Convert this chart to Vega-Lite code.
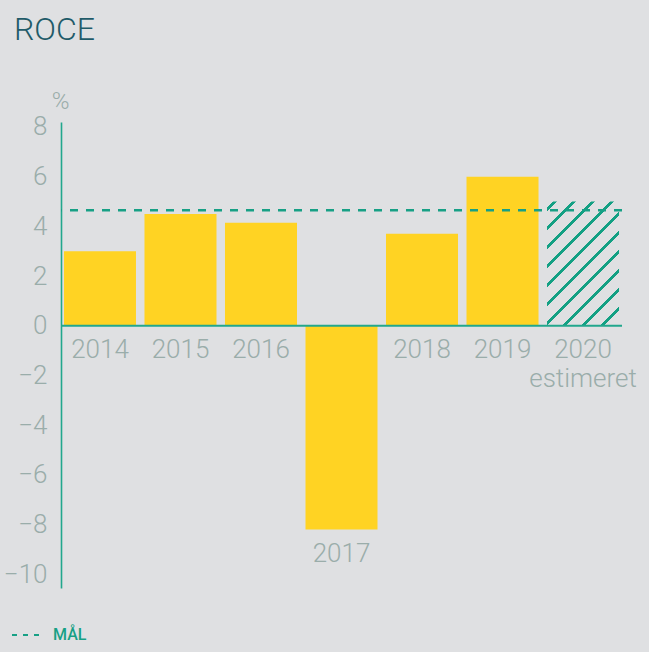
{
  "$schema": "https://vega.github.io/schema/vega-lite/v6.json",
  "autosize": "none",
  "width": 561,
  "height": 466,
  "padding": {"left": 61, "top": 122, "right": 27, "bottom": 64},
  "background": "#dfe0e2",
  "title": {
    "text": "ROCE",
    "anchor": "start",
    "frame": "group",
    "dx": -47,
    "font": "Roboto",
    "fontSize": 32,
    "fontWeight": 300,
    "color": "#1f5b69",
    "offset": 42
  },
  "config": {"view": {"stroke": null}, "font": "Roboto"},
  "data": {
    "values": [
      {"year": "2014", "roce": 3.0, "type": "actual", "sub": ""},
      {"year": "2015", "roce": 4.5, "type": "actual", "sub": ""},
      {"year": "2016", "roce": 4.15, "type": "actual", "sub": ""},
      {"year": "2017", "roce": -8.2, "type": "actual", "sub": ""},
      {"year": "2018", "roce": 3.7, "type": "actual", "sub": ""},
      {"year": "2019", "roce": 6.0, "type": "actual", "sub": ""},
      {"year": "2020", "roce": 5.0, "type": "estimate", "sub": "estimeret"}
    ]
  },
  "layer": [
    {
      "transform": [{"filter": "datum.type === 'actual'"}],
      "mark": {"type": "bar", "color": "#ffd323"},
      "encoding": {
        "x": {"field": "year", "type": "ordinal", "axis": null, "scale": {"domain": ["2014","2015","2016","2017","2018","2019","2020"], "paddingInner": 0.1056, "paddingOuter": 0.037}},
        "y": {
          "field": "roce",
          "type": "quantitative",
          "scale": {"domain": [-10.55, 8.2], "nice": false, "zero": false},
          "axis": {
            "values": [-10, -8, -6, -4, -2, 0, 2, 4, 6, 8],
            "title": "%",
            "titleAngle": 0,
            "titleX": -1,
            "titleY": -21,
            "titleAlign": "center",
            "titleBaseline": "middle",
            "titleFont": "Roboto",
            "titleFontWeight": 300,
            "titleFontSize": 24,
            "titleColor": "#9aadaa",
            "titlePadding": 0,
            "labelFont": "Roboto",
            "labelFontWeight": 300,
            "labelFontSize": 26,
            "labelColor": "#9aadaa",
            "labelPadding": 14,
            "ticks": false,
            "grid": false,
            "domainColor": "#22a78d",
            "domainWidth": 1.6
          }
        }
      }
    },
    {
      "transform": [{"filter": "datum.type === 'estimate'"}],
      "mark": {
        "type": "bar",
        "fill": {
          "gradient": "linear",
          "x1": 0, "y1": 0, "x2": 0.6864, "y2": 1.1821,
          "stops": [
            {"offset": 0, "color": "#dfe0e2"},
            {"offset": 0.0306, "color": "#dfe0e2"}, {"offset": 0.0306, "color": "#13a083"}, {"offset": 0.051, "color": "#13a083"}, {"offset": 0.051, "color": "#dfe0e2"},
            {"offset": 0.1276, "color": "#dfe0e2"}, {"offset": 0.1276, "color": "#13a083"}, {"offset": 0.148, "color": "#13a083"}, {"offset": 0.148, "color": "#dfe0e2"},
            {"offset": 0.2245, "color": "#dfe0e2"}, {"offset": 0.2245, "color": "#13a083"}, {"offset": 0.2449, "color": "#13a083"}, {"offset": 0.2449, "color": "#dfe0e2"},
            {"offset": 0.3214, "color": "#dfe0e2"}, {"offset": 0.3214, "color": "#13a083"}, {"offset": 0.3418, "color": "#13a083"}, {"offset": 0.3418, "color": "#dfe0e2"},
            {"offset": 0.4184, "color": "#dfe0e2"}, {"offset": 0.4184, "color": "#13a083"}, {"offset": 0.4388, "color": "#13a083"}, {"offset": 0.4388, "color": "#dfe0e2"},
            {"offset": 0.5153, "color": "#dfe0e2"}, {"offset": 0.5153, "color": "#13a083"}, {"offset": 0.5357, "color": "#13a083"}, {"offset": 0.5357, "color": "#dfe0e2"},
            {"offset": 0.6122, "color": "#dfe0e2"}, {"offset": 0.6122, "color": "#13a083"}, {"offset": 0.6327, "color": "#13a083"}, {"offset": 0.6327, "color": "#dfe0e2"},
            {"offset": 0.7092, "color": "#dfe0e2"}, {"offset": 0.7092, "color": "#13a083"}, {"offset": 0.7296, "color": "#13a083"}, {"offset": 0.7296, "color": "#dfe0e2"},
            {"offset": 0.8061, "color": "#dfe0e2"}, {"offset": 0.8061, "color": "#13a083"}, {"offset": 0.8265, "color": "#13a083"}, {"offset": 0.8265, "color": "#dfe0e2"},
            {"offset": 0.9031, "color": "#dfe0e2"}, {"offset": 0.9031, "color": "#13a083"}, {"offset": 0.9235, "color": "#13a083"}, {"offset": 0.9235, "color": "#dfe0e2"},
            {"offset": 1, "color": "#dfe0e2"}
          ]
        }
      },
      "encoding": {
        "x": {"field": "year", "type": "ordinal", "axis": null},
        "y": {"field": "roce", "type": "quantitative", "scale": {"domain": [-10.55, 8.2], "nice": false, "zero": false}}
      }
    },
    {
      "data": {"values": [{"base": 0}]},
      "mark": {"type": "rule", "color": "#22a78d", "strokeWidth": 2},
      "encoding": {
        "y": {"field": "base", "type": "quantitative", "scale": {"domain": [-10.55, 8.2], "nice": false, "zero": false}}
      }
    },
    {
      "data": {"values": [{"label": "MÅL", "target": 4.65}]},
      "mark": {"type": "rule", "strokeWidth": 2.5, "strokeDash": [8, 8]},
      "encoding": {
        "y": {"field": "target", "type": "quantitative", "scale": {"domain": [-10.55, 8.2], "nice": false, "zero": false}},
        "color": {
          "field": "label",
          "type": "nominal",
          "scale": {"range": ["#17a085"]},
          "legend": {
            "orient": "none",
            "legendX": -50,
            "legendY": 497,
            "title": null,
            "padding": 0,
            "symbolType": "stroke",
            "symbolStrokeWidth": 2,
            "symbolDash": [5, 6],
            "symbolSize": 900,
            "labelFont": "Roboto",
            "labelFontSize": 16,
            "labelFontWeight": 500,
            "labelColor": "#17a085",
            "labelOffset": 10
          }
        }
      }
    },
    {
      "transform": [{"calculate": "min(datum.roce, 0)", "as": "anchor"}],
      "mark": {"type": "text", "font": "Roboto", "fontWeight": 300, "fontSize": 26, "color": "#9aadaa", "align": "center", "baseline": "middle", "dy": 24},
      "encoding": {
        "x": {"field": "year", "type": "ordinal", "axis": null},
        "y": {"field": "anchor", "type": "quantitative", "scale": {"domain": [-10.55, 8.2], "nice": false, "zero": false}},
        "text": {"field": "year"}
      }
    },
    {
      "transform": [{"filter": "datum.sub !== ''"}, {"calculate": "min(datum.roce, 0)", "as": "anchor"}],
      "mark": {"type": "text", "font": "Roboto", "fontWeight": 300, "fontSize": 26, "color": "#9aadaa", "align": "center", "baseline": "middle", "dy": 53},
      "encoding": {
        "x": {"field": "year", "type": "ordinal", "axis": null},
        "y": {"field": "anchor", "type": "quantitative", "scale": {"domain": [-10.55, 8.2], "nice": false, "zero": false}},
        "text": {"field": "sub"}
      }
    }
  ]
}
